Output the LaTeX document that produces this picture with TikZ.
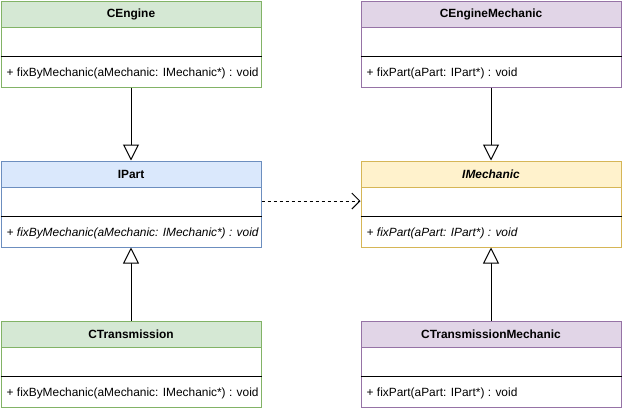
\documentclass[tikz,border=0pt]{standalone}
\usepackage{fontspec}
\setmainfont{Liberation Sans}
\usetikzlibrary{positioning, arrows.meta}

\definecolor{greenfill}{HTML}{D5E8D4}
\definecolor{greenline}{HTML}{82B366}
\definecolor{bluefill}{HTML}{DAE8FC}
\definecolor{blueline}{HTML}{6C8EBF}
\definecolor{yellowfill}{HTML}{FFF2CC}
\definecolor{yellowline}{HTML}{D6B656}
\definecolor{purplefill}{HTML}{E1D5E7}
\definecolor{purpleline}{HTML}{9673A6}

\tikzset{
    classbox/.style={draw, rectangle, fill=white, minimum width=260pt, minimum height=86pt, anchor=north west, inner sep=0pt, line width=1pt},
    classhead/.style={draw, rectangle, minimum width=260pt, minimum height=26pt, anchor=north, inner sep=0pt, line width=1pt, font=\fontsize{11.9}{14}\selectfont\bfseries},
    method/.style={anchor=west, inner sep=0pt, font=\fontsize{11.9}{14}\selectfont},
    sepline/.style={line width=1pt},
    inherit/.style={line width=1pt, -{Triangle[open, length=16pt, width=16pt, fill=white]}},
    depend/.style={line width=1pt, dash pattern=on 3pt off 3pt, -{Straight Barb[length=8pt, width=16pt, line width=1pt]}}
}

\begin{document}
\begin{tikzpicture}[x=1pt, y=1pt]

    \useasboundingbox (0,0) rectangle (622,-410);

    % Left column
    \node[classbox, draw=greenline] (cengine) at (0.5,-0.5) {};
    \node[classhead, draw=greenline, fill=greenfill] (cengineHead) at (cengine.north) {CEngine};
    \draw[sepline] ([yshift=-56pt]cengine.north west) -- ([yshift=-56pt]cengine.north east);
    \node[method] (cengineFix) at ([xshift=6pt, yshift=-73pt]cengine.north west) {+ fixByMechanic(aMechanic: IMechanic*) : void};

    \node[classbox, draw=blueline] (ipart) at (0.5,-160.5) {};
    \node[classhead, draw=blueline, fill=bluefill] (ipartHead) at (ipart.north) {IPart};
    \draw[sepline] ([yshift=-56pt]ipart.north west) -- ([yshift=-56pt]ipart.north east);
    \begin{scope}
        \clip ([xshift=0.5pt]ipart.north west) rectangle ([xshift=-0.5pt]ipart.south east);
        \node[method, font=\fontsize{11.9}{14}\selectfont\itshape] (ipartFix) at ([xshift=6pt, yshift=-73pt]ipart.north west) {+ fixByMechanic(aMechanic: IMechanic*) : void};
    \end{scope}

    \node[classbox, draw=greenline] (ctrans) at (0.5,-320.5) {};
    \node[classhead, draw=greenline, fill=greenfill] (ctransHead) at (ctrans.north) {CTransmission};
    \draw[sepline] ([yshift=-56pt]ctrans.north west) -- ([yshift=-56pt]ctrans.north east);
    \node[method] (ctransFix) at ([xshift=6pt, yshift=-73pt]ctrans.north west) {+ fixByMechanic(aMechanic: IMechanic*) : void};

    % Right column
    \node[classbox, draw=purpleline] (cenginemech) at (360.5,-0.5) {};
    \node[classhead, draw=purpleline, fill=purplefill] (cenginemechHead) at (cenginemech.north) {CEngineMechanic};
    \draw[sepline] ([yshift=-56pt]cenginemech.north west) -- ([yshift=-56pt]cenginemech.north east);
    \node[method] (cenginemechFix) at ([xshift=6pt, yshift=-73pt]cenginemech.north west) {+ fixPart(aPart: IPart*) : void};

    \node[classbox, draw=yellowline] (imech) at (360.5,-160.5) {};
    \node[classhead, draw=yellowline, fill=yellowfill, font=\fontsize{11.9}{14}\selectfont\bfseries\itshape] (imechHead) at (imech.north) {IMechanic};
    \draw[sepline] ([yshift=-56pt]imech.north west) -- ([yshift=-56pt]imech.north east);
    \node[method, font=\fontsize{11.9}{14}\selectfont\itshape] (imechFix) at ([xshift=6pt, yshift=-73pt]imech.north west) {+ fixPart(aPart: IPart*) : void};

    \node[classbox, draw=purpleline] (ctransmech) at (360.5,-320.5) {};
    \node[classhead, draw=purpleline, fill=purplefill] (ctransmechHead) at (ctransmech.north) {CTransmissionMechanic};
    \draw[sepline] ([yshift=-56pt]ctransmech.north west) -- ([yshift=-56pt]ctransmech.north east);
    \node[method] (ctransmechFix) at ([xshift=6pt, yshift=-73pt]ctransmech.north west) {+ fixPart(aPart: IPart*) : void};

    % Generalisations
    \draw[inherit] (cengine.south) -- (ipart.north);
    \draw[inherit] (ctrans.north) -- (ipart.south);
    \draw[inherit] (cenginemech.south) -- (imech.north);
    \draw[inherit] (ctransmech.north) -- (imech.south);

    % Dependency
    \draw[depend] ([yshift=3pt]ipart.east) -- ([yshift=3pt]imech.west);

\end{tikzpicture}
\end{document}
